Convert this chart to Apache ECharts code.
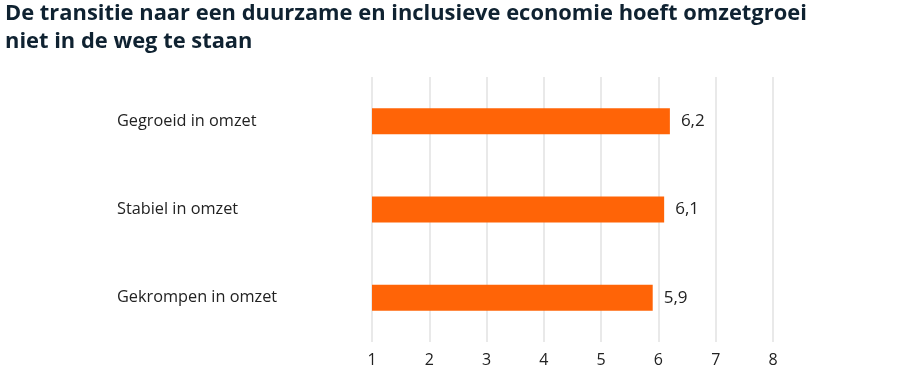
<!DOCTYPE html>
<html>
<head>
<meta charset="utf-8">
<script src="https://cdn.jsdelivr.net/npm/echarts@6/dist/echarts.min.js"></script>
<style>
html,body{margin:0;padding:0;background:#fff;}
#chart{width:900px;height:372px;}
</style>
</head>
<body>
<div id="chart"></div>
<script>
const titleText = "De transitie naar een duurzame en inclusieve economie hoeft omzetgroei\nniet in de weg te staan";
const categories = ["Gegroeid in omzet", "Stabiel in omzet", "Gekrompen in omzet"];
const values = [6.2, 6.1, 5.9];
const valueLabels = ["6,2", "6,1", "5,9"];
const xTicks = [1, 2, 3, 4, 5, 6, 7, 8];

const chart = echarts.init(document.getElementById('chart'), null, {renderer: 'canvas'});
chart.setOption({
  animation: false,
  title: {
    text: titleText,
    left: 5, top: 0, padding: 0,
    textStyle: {
      fontFamily: 'Open Sans', fontWeight: 'bold', fontSize: 21.9,
      lineHeight: 28, color: '#0f2231'
    }
  },
  grid: {left: 372, right: 127, top: 77, height: 265, containLabel: false},
  xAxis: {
    type: 'value', min: xTicks[0], max: xTicks[xTicks.length - 1], interval: 1,
    position: 'bottom',
    axisLine: {show: false}, axisTick: {show: false},
    splitLine: {show: true, lineStyle: {color: '#e2e2e2', width: 1.5}},
    axisLabel: {
      margin: 10, color: '#222', fontSize: 16, fontFamily: 'Open Sans',
      formatter: v => xTicks.includes(v) ? String(v) : ''
    }
  },
  yAxis: {
    type: 'category', data: categories, inverse: true,
    axisLine: {show: false}, axisTick: {show: false},
    axisLabel: {
      align: 'left', margin: 255, color: '#222', fontSize: 16.3,
      fontFamily: 'Open Sans'
    }
  },
  series: [{
    type: 'bar',
    data: values,
    barWidth: 26,
    itemStyle: {color: '#ff6407'},
    label: {
      show: true, position: 'right', distance: 11,
      color: '#222', fontSize: 17, fontFamily: 'Open Sans',
      formatter: p => valueLabels[p.dataIndex]
    }
  }]
});
</script>
</body>
</html>
